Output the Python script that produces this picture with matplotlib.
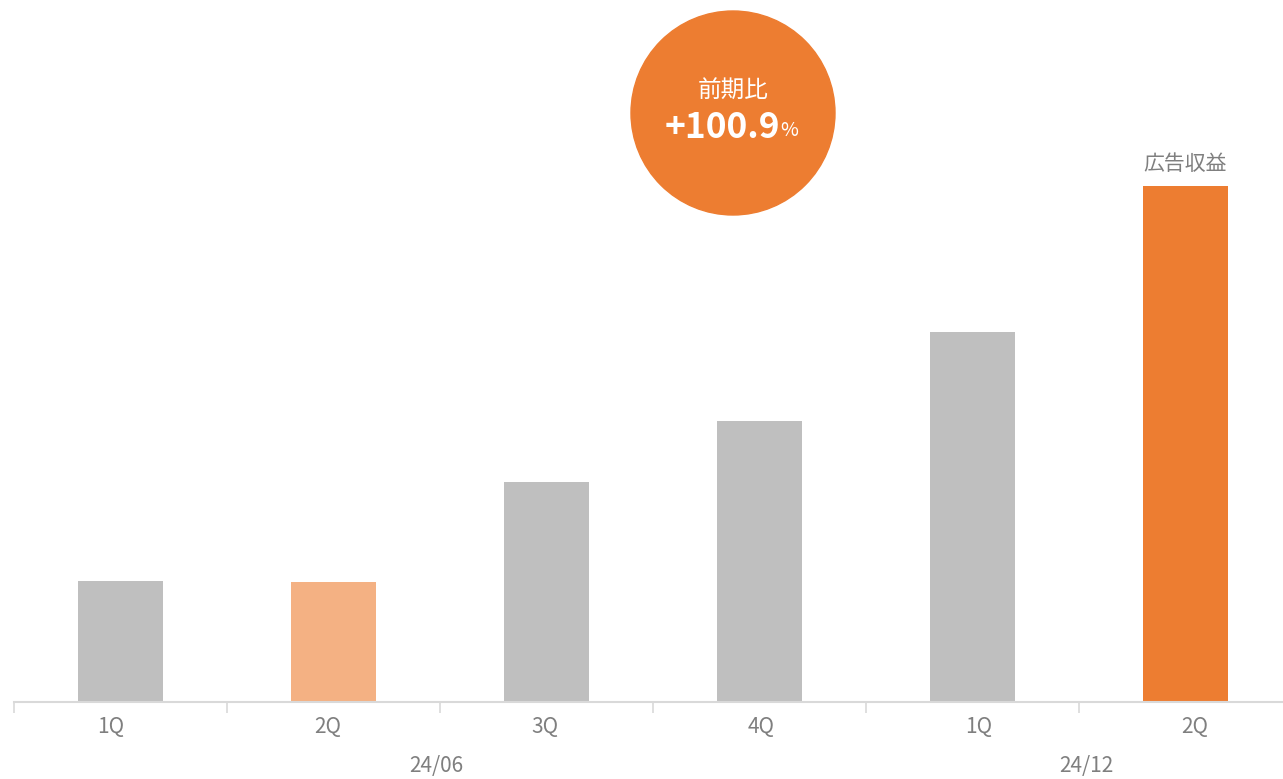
import matplotlib
matplotlib.use("Agg")
import matplotlib.pyplot as plt
from matplotlib.patches import Ellipse

plt.rcParams['font.family'] = ['Noto Sans CJK JP', 'DejaVu Sans']

quarters = ["1Q", "2Q", "3Q", "4Q", "1Q", "2Q"]
revenue = [121, 120, 220, 281, 370, 516]
bar_colors = ["#bfbfbf", "#f4b183", "#bfbfbf", "#bfbfbf", "#bfbfbf", "#ed7d31"]
periods = ["24/06", "24/12"]
period_centers = [1.5, 4.5]
series_name = "広告収益"
growth_label = "前期比"
growth_value = "+100.9"

W, H = 1283, 779
fig = plt.figure(figsize=(W / 100, H / 100), dpi=100)
ax = fig.add_axes([14 / W, 77 / H, 1278 / W, (H - 77) / H])

x = list(range(len(quarters)))
ax.bar(x, revenue, width=0.4, color=bar_colors, zorder=2)
ax.set_xlim(-0.5, len(quarters) - 0.5)
ax.set_ylim(0, H - 77)

for s in ["top", "right", "left"]:
    ax.spines[s].set_visible(False)
ax.spines["bottom"].set_color("#d9d9d9")
ax.spines["bottom"].set_linewidth(1.5)
ax.set_yticks([])

# boundary ticks between categories
ax.set_xticks([i - 0.5 for i in x])
ax.set_xticklabels([])
ax.tick_params(axis="x", length=8, width=1.2, color="#d9d9d9")

# category labels sit on a slightly wider spacing than the bars
mid = (len(quarters) - 1) / 2
spread = 1.018
def label_x(v):
    return mid + (v - mid) * spread

for i, q in zip(x, quarters):
    ax.text(label_x(i), -25, q, ha="center", va="center", fontsize=15,
            color="#7f7f7f", clip_on=False)

for c, p in zip(period_centers, periods):
    ax.text(label_x(c), -64, p, ha="center", va="center", fontsize=15,
            color="#7f7f7f", clip_on=False)

ax.text(x[-1], revenue[-1] + 22, series_name, ha="center", va="center",
        fontsize=15, color="#7f7f7f")

# growth badge
badge = Ellipse((733 / W, 1 - 113 / H), 204 / W, 204 / H,
                transform=fig.transFigure, color="#ed7d31", zorder=5)
fig.patches.append(badge)
fig.text(733 / W, 1 - 91 / H, growth_label, ha="center", va="center",
         fontsize=17, color="white", zorder=6)
fig.text(722 / W, 1 - 127 / H, growth_value, ha="center", va="center",
         fontsize=25.5, fontweight="bold", color="white", zorder=6)
fig.text(780 / W, 1 - 131 / H, "%", ha="left", va="center",
         fontsize=14, color="white", zorder=6)

fig.savefig("out.png", dpi=100, facecolor="white")
